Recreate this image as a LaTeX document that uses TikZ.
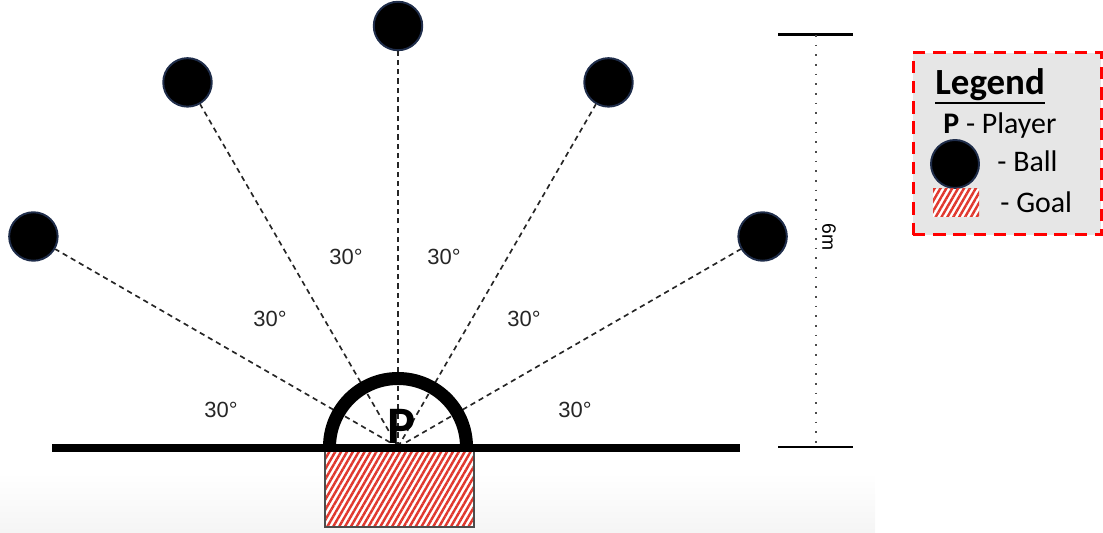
\documentclass[tikz,border=0pt]{standalone}
\usepackage{fontspec}
\setmainfont{Carlito}
\newfontfamily\arialfont{Liberation Sans}
\usepackage{tikz}
\usetikzlibrary{patterns.meta}

\definecolor{ballrim}{HTML}{1F2D4A}
\definecolor{hatchred}{HTML}{E0382E}
\definecolor{legendgray}{HTML}{E6E6E6}

\tikzset{
  ball/.style={circle, fill=black, draw=ballrim, line width=1.1pt, minimum size=0.97cm, inner sep=0pt},
  ray/.style={dash pattern=on 3pt off 2.3pt, line width=0.95pt, black!85},
  degtxt/.style={font=\arialfont\fontsize{12.5}{14}\selectfont, text=black!85},
  goalhatch/.style={draw=black!70, line width=0.6pt, preaction={fill=white},
    pattern={Lines[angle=60,distance=2.9pt,line width=1.4pt]}, pattern color=hatchred},
  legendtxt/.style={anchor=base west, inner sep=0pt, font=\fontsize{17}{20}\selectfont},
}

\begin{document}
\begin{tikzpicture}
\useasboundingbox (0,0) rectangle (22.06,10.66);
% faint shade along the bottom
\shade[top color=white, bottom color=black!4] (0,0) rectangle (17.5,1.2);

\coordinate (p) at (7.96,1.72);
\foreach \a [count=\i] in {150,120,90,60,30}
  \node[ball] (ball\i) at ([shift={(\a:8.42)}]p) {};
\foreach \i in {1,...,5}
  \draw[ray] (p) -- (ball\i);

% angles between the rays
\node[degtxt] (deg1) at (4.42,2.46) {30°};
\node[degtxt] (deg2) at (5.40,4.28) {30°};
\node[degtxt] (deg3) at (6.92,5.52) {30°};
\node[degtxt] (deg4) at (8.88,5.52) {30°};
\node[degtxt] (deg5) at (10.48,4.28) {30°};
\node[degtxt] (deg6) at (11.50,2.46) {30°};

% goal, line and the player's half circle
\draw[goalhatch] (6.50,0.12) rectangle (9.48,1.68);
\draw[line width=4.5pt] (1.04,1.70) -- (14.80,1.70);
\draw[line width=7.4pt] ([xshift=-1.37cm]p) arc[start angle=180, end angle=0, radius=1.37];
\node[font=\bfseries\fontsize{30}{30}\selectfont, inner sep=0pt] (player) at (8.04,2.14) {P};

% distance marker
\coordinate (htop) at (16.32,9.96);
\coordinate (hbot) at (16.32,1.72);
\draw[line width=1.7pt] ([xshift=-0.76cm]htop) -- ([xshift=0.74cm]htop);
\draw[line width=1.7pt] ([xshift=-0.76cm]hbot) -- ([xshift=0.74cm]hbot);
\draw[dash pattern=on 0.9pt off 4.6pt, line width=1pt, black!70] (htop) -- (hbot);
\node[rotate=-90, anchor=south, inner sep=1pt, font=\arialfont\fontsize{11}{12}\selectfont] (dist) at (16.40,5.92) {6m};

% legend
\node[draw=red, dash pattern=on 7pt off 4.5pt, line width=1.7pt, fill=legendgray,
  minimum width=3.76cm, minimum height=3.64cm] (legendbox) at (20.14,7.78) {};
\node[legendtxt, font=\bfseries\fontsize{21}{24}\selectfont] (legendtitle) at (18.70,8.76) {Legend};
\draw[line width=1.2pt] ([yshift=-0.6pt]legendtitle.south west) -- ([yshift=-0.6pt]legendtitle.south east);
\node[legendtxt] (legendp) at (18.86,7.98) {\textbf{P} - Player};
\node[ball, minimum size=0.96cm] (legendball) at (19.10,7.38) {};
\node[legendtxt] (legendballtxt) at (19.94,7.22) {- Ball};
\draw[goalhatch, draw=none] (18.66,6.32) rectangle (19.58,6.88);
\node[legendtxt] (legendgoal) at (20.00,6.40) {- Goal};
\end{tikzpicture}
\end{document}
